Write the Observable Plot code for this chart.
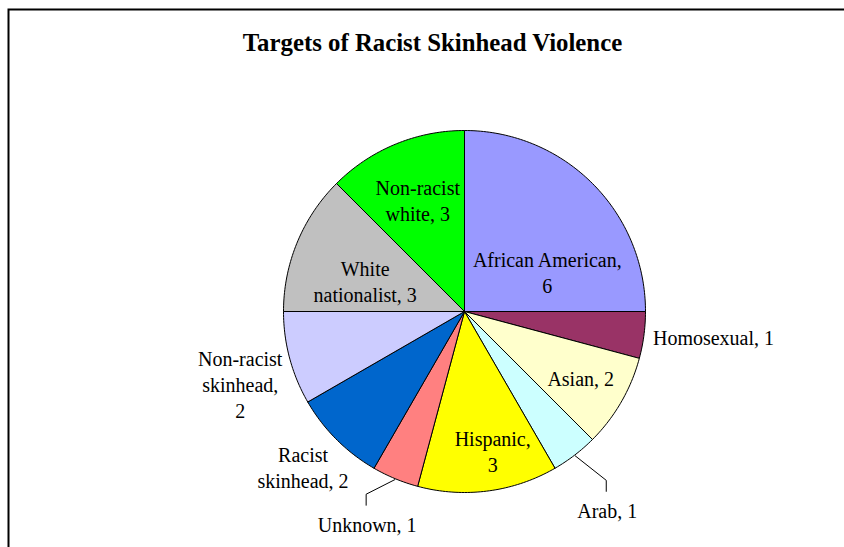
<!DOCTYPE html>
<html>
<head>
<meta charset="utf-8">
<script src="https://cdn.jsdelivr.net/npm/d3@7"></script>
<script src="https://cdn.jsdelivr.net/npm/@observablehq/plot@0.6"></script>
<style>
  html, body { margin: 0; padding: 0; background: #fff; }
  #chart svg { display: block; }
</style>
</head>
<body>
<div id="chart"></div>
<script>
// ---- data ----
const title = "Targets of Racist Skinhead Violence";
const categories = ["African American", "Homosexual", "Asian", "Arab", "Hispanic", "Unknown", "Racist skinhead", "Non-racist skinhead", "White nationalist", "Non-racist white"];
const values = [6, 1, 2, 1, 3, 1, 2, 2, 3, 3];
const colors = ["#9999FF", "#993366", "#FFFFCC", "#CCFFFF", "#FFFF00", "#FF8080", "#0066CC", "#CCCCFF", "#C0C0C0", "#00FF00"];
const labelTexts = ["African American,\n6", "Homosexual, 1", "Asian, 2", "Arab, 1", "Hispanic,\n3", "Unknown, 1", "Racist\nskinhead, 2", "Non-racist\nskinhead,\n2", "White\nnationalist, 3", "Non-racist\nwhite, 3"];

// ---- layout (not data) ----
const W = 844, H = 547;
const cx = 464, cy = 311, R = 181;
const labelLayout = [
  {k: 0.6, dx: 6, dy: 37, anchor: "middle", leader: false},
  {k: 1.0, dx: 9, dy: 2, anchor: "start", leader: false},
  {k: 0.735, dx: 1, dy: 0, anchor: "middle", leader: false},
  {k: 1.35, dx: -6, dy: 4, anchor: "middle", leader: true},
  {k: 0.77, dx: 10, dy: 1, anchor: "middle", leader: false},
  {k: 1.29, dx: -8, dy: -4, anchor: "middle", leader: true},
  {k: 1.23, dx: -4, dy: -2, anchor: "middle", leader: false},
  {k: 1.3, dx: 3, dy: 11, anchor: "middle", leader: false},
  {k: 0.57, dx: -4, dy: 9, anchor: "middle", leader: false},
  {k: 0.66, dx: -1, dy: -1, anchor: "middle", leader: false}
];

const arcs = d3.pie().sort(null).value(d => d)(values);
const pt = (a, r) => [cx + r * Math.sin(a), cy - r * Math.cos(a)];

// slice polygons
const slicePts = [];
arcs.forEach((a, i) => {
  const name = categories[i];
  slicePts.push({name, x: cx, y: cy});
  const n = Math.max(2, Math.ceil((a.endAngle - a.startAngle) / (Math.PI / 180)));
  for (let j = 0; j <= n; j++) {
    const ang = a.startAngle + (a.endAngle - a.startAngle) * j / n;
    const [x, y] = pt(ang, R);
    slicePts.push({name, x, y});
  }
  slicePts.push({name, x: cx, y: cy});
});

// labels
const labels = arcs.map((a, i) => {
  const mid = (a.startAngle + a.endAngle) / 2;
  const L = labelLayout[i];
  const [x, y] = pt(mid, L.k * R);
  return {text: labelTexts[i], x: x + L.dx, y: y + L.dy, anchor: L.anchor, mid, leader: L.leader, name: categories[i]};
});

// leader lines
const leaderPts = [];
labels.filter(l => l.leader).forEach(l => {
  const [x0, y0] = pt(l.mid, R + 1);
  leaderPts.push({name: l.name, x: x0, y: y0});
  leaderPts.push({name: l.name, x: l.x - 1, y: l.y - 29});
  leaderPts.push({name: l.name, x: l.x - 1, y: l.y - 18});
});

const font = "'Liberation Serif', 'Times New Roman', serif";

const chart = Plot.plot({
  width: W,
  height: H,
  margin: 0,
  x: {domain: [0, W], range: [0, W], axis: null},
  y: {domain: [0, H], range: [0, H], axis: null},
  color: {domain: categories, range: colors},
  style: {fontFamily: font, background: "#fff"},
  marks: [
    Plot.frame({stroke: "#000", strokeWidth: 2, insetLeft: 8, insetTop: 9, insetRight: -10, insetBottom: -10}),
    Plot.line(slicePts, {x: "x", y: "y", z: "name", fill: "name", stroke: "#000", strokeWidth: 1, curve: "linear", strokeLinejoin: "round"}),
    Plot.line(leaderPts, {x: "x", y: "y", z: "name", stroke: "#000", strokeWidth: 1, curve: "linear"}),
    Plot.text(labels.filter(l => l.anchor === "middle"), {x: "x", y: "y", text: "text", textAnchor: "middle", lineAnchor: "middle", lineHeight: 1.3, fontSize: 20, fill: "#000"}),
    Plot.text(labels.filter(l => l.anchor === "start"), {x: "x", y: "y", text: "text", textAnchor: "start", lineAnchor: "middle", lineHeight: 1.3, fontSize: 20, fill: "#000"}),
    Plot.text([title], {frameAnchor: "top", dx: 10, dy: 43, text: d => d, lineAnchor: "middle", fontSize: 24.8, fontWeight: "bold", fill: "#000"})
  ]
});
document.getElementById("chart").appendChild(chart);
</script>
</body>
</html>
